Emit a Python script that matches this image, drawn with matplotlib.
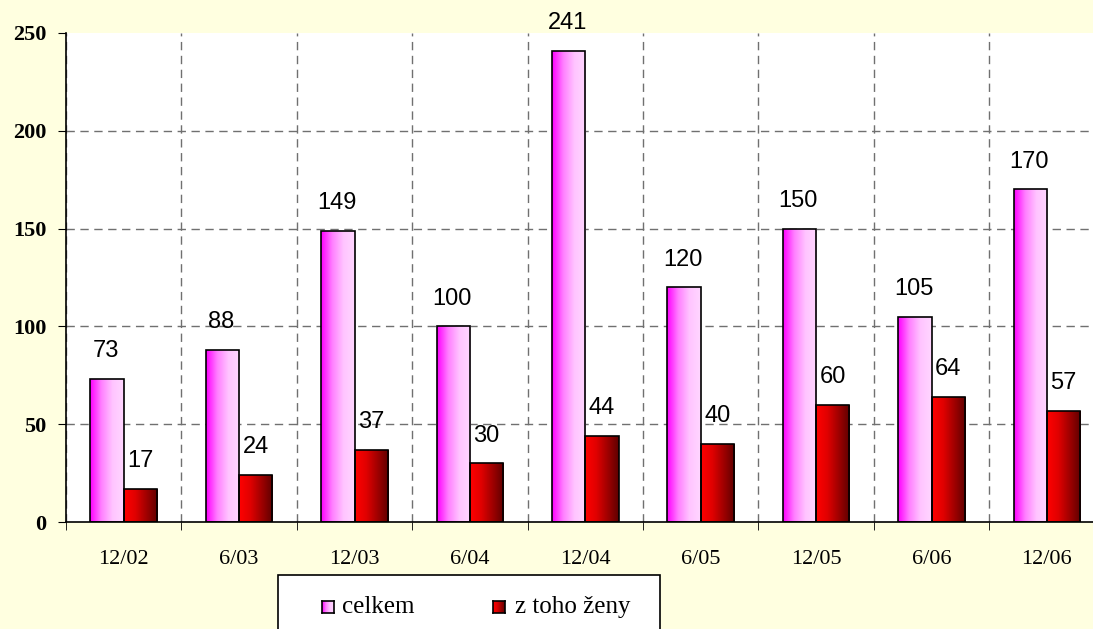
import numpy as np
import matplotlib
matplotlib.use("Agg")
from matplotlib import pyplot as plt
from matplotlib.colors import LinearSegmentedColormap
from matplotlib.patches import Rectangle

# data
obdobi = ["12/02", "6/03", "12/03", "6/04", "12/04", "6/05", "12/05", "6/06", "12/06"]
celkem = [73, 88, 149, 100, 241, 120, 150, 105, 170]
zeny = [17, 24, 37, 30, 44, 40, 60, 64, 57]
yticks = [0, 50, 100, 150, 200, 250]

bg = "#FFFFE0"
pink_cm = LinearSegmentedColormap.from_list("pink", ["#FF00FF", "#FF80FF", "#FFC4FF", "#FFD6FF"])
red_cm = LinearSegmentedColormap.from_list("red", ["#FF0000", "#E00000", "#A00000", "#600000"])

fig = plt.figure(figsize=(10.93, 6.29), dpi=100, facecolor=bg)
ax = fig.add_axes([66 / 1093, 107 / 629, 1 - 66 / 1093, (522 - 33) / 629])
ax.set_facecolor("white")

x = np.arange(len(obdobi))
w = 0.288
b1 = ax.bar(x - w / 2, celkem, w, facecolor="none", edgecolor="black", linewidth=1.2, zorder=3)
b2 = ax.bar(x + w / 2, zeny, w, facecolor="none", edgecolor="black", linewidth=1.2, zorder=3)

grad = np.linspace(0, 1, 64).reshape(1, -1)
for bars, cm in [(b1, pink_cm), (b2, red_cm)]:
    for r in bars:
        x0, y0 = r.get_x(), r.get_y()
        im = ax.imshow(grad, cmap=cm, aspect="auto", zorder=2,
                       extent=[x0, x0 + r.get_width(), y0, y0 + r.get_height()])
        im.set_clip_path(r)

for r, v in zip(b1, celkem):
    ax.annotate(str(v), (r.get_x() + r.get_width() / 2, v), xytext=(-1, 20),
                textcoords="offset points", ha="center", va="center",
                fontsize=17, family="Liberation Sans")
for r, v in zip(b2, zeny):
    ax.annotate(str(v), (r.get_x() + r.get_width() / 2, v), xytext=(0, 20),
                textcoords="offset points", ha="center", va="center",
                fontsize=17, family="Liberation Sans")

ax.set_xticks(x)
ax.set_xticklabels(obdobi, family="Liberation Serif", fontsize=16)
ax.set_xticks(np.arange(len(obdobi) + 1) - 0.5, minor=True)
ax.tick_params(axis="x", which="major", length=0, pad=20)
ax.tick_params(axis="x", which="minor", length=6, direction="out", color="black")
ax.set_yticks(yticks)
ax.set_yticklabels([str(t) for t in yticks], family="Liberation Serif",
                   fontsize=16, fontweight="bold")
ax.tick_params(axis="y", length=6, direction="out", pad=8)
# limits after the ticks, so set_xticks does not widen them
ax.set_xlim(-0.5, -0.5 + (1093 - 66) / 115.4)
ax.set_ylim(0, 250)

ax.grid(axis="x", which="minor", color="#707070", linestyle=(0, (6, 4)), linewidth=1)
ax.grid(axis="y", which="major", color="#707070", linestyle=(0, (6, 4)), linewidth=1)
ax.get_ygridlines()[-1].set_visible(False)
ax.get_ygridlines()[0].set_visible(False)
ax.set_axisbelow(True)

for s in ["top", "right"]:
    ax.spines[s].set_visible(False)
ax.spines["left"].set_linewidth(1.2)
ax.spines["bottom"].set_linewidth(1.2)

# legend box, cut off at the bottom like the reference
fig.patches.append(Rectangle((278 / 1093, -0.05), (660 - 278) / 1093, 0.05 + 54 / 629,
                             transform=fig.transFigure, facecolor="white",
                             edgecolor="black", linewidth=1.2, zorder=5))
sq = 12
for (px, cm), label, tx in [((322, pink_cm), "celkem", 342), ((493, red_cm), "z toho ženy", 515)]:
    fx, fy = px / 1093, (629 - 613) / 629
    fax = fig.add_axes([fx, fy, sq / 1093, sq / 629], zorder=6)
    fax.imshow(grad, cmap=cm, aspect="auto")
    fax.set_xticks([])
    fax.set_yticks([])
    for s in fax.spines.values():
        s.set_linewidth(1.2)
    fig.text(tx / 1093, (629 - 607) / 629, label, family="Liberation Serif",
             fontsize=18, va="center", ha="left", zorder=7)

fig.savefig("out.png", dpi=100, facecolor=bg)
